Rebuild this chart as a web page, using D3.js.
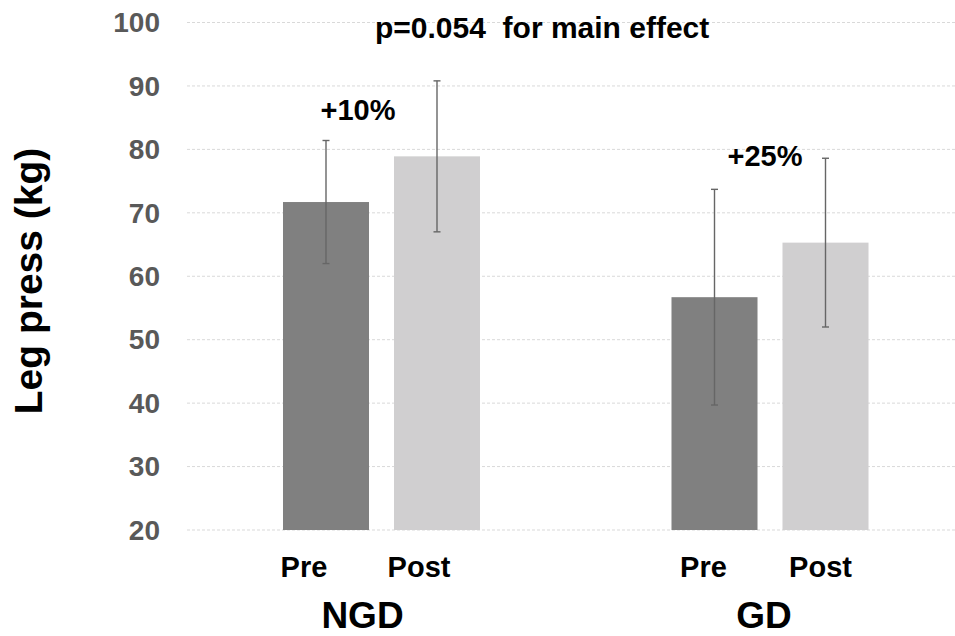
<!DOCTYPE html>
<html><head><meta charset="utf-8">
<script src="https://cdn.jsdelivr.net/npm/d3@7"></script>
<style>body{margin:0;background:#fff;} svg{display:block;font-family:"Liberation Sans",Arial,sans-serif;font-weight:bold;}</style>
</head><body>
<svg id="c" width="955" height="636"></svg>
<script>
const groups = ["NGD", "GD"];
const phases = ["Pre", "Post"];
const means = { NGD: [71.7, 78.9], GD: [56.7, 65.3] };
const errs  = { NGD: [9.7, 11.9], GD: [17.0, 13.3] };
const yTicks = [20, 30, 40, 50, 60, 70, 80, 90, 100];
const changeLabels = ["+10%", "+25%"];
const pText = "p=0.054  for main effect";

const svg = d3.select("#c");
const y = d3.scaleLinear().domain([20, 100]).range([530, 22.5]);
const x0 = d3.scaleBand().domain(groups).range([187.25, 964.25]).padding(0);
const x1 = d3.scaleBand().domain(phases).range([0, x0.bandwidth()]).paddingInner(0.225).paddingOuter(0.8625);
const colors = { Pre: "#808080", Post: "#d0cfd0" };

// gridlines
svg.append("g").selectAll("line").data(yTicks).join("line")
  .attr("x1", 187).attr("x2", 955)
  .attr("y1", d => y(d)).attr("y2", d => y(d))
  .attr("stroke", "#d9d9d9").attr("stroke-width", 1).attr("stroke-dasharray", "3,2");

// y tick labels
svg.append("g").selectAll("text").data(yTicks).join("text")
  .attr("x", 160).attr("y", d => y(d)).attr("dy", "0.35em")
  .attr("text-anchor", "end").attr("font-size", 28).attr("fill", "#595959")
  .text(d => d);

// y axis title
svg.append("text")
  .attr("transform", "translate(42,281) rotate(-90)")
  .attr("text-anchor", "middle").attr("font-size", 39).attr("fill", "#000")
  .text("Leg press (kg)");

const rows = [];
groups.forEach(g => phases.forEach((p, i) => rows.push({ g, p, v: means[g][i], e: errs[g][i] })));

// bars
svg.append("g").selectAll("rect").data(rows).join("rect")
  .attr("x", d => x0(d.g) + x1(d.p))
  .attr("width", x1.bandwidth())
  .attr("y", d => y(d.v))
  .attr("height", d => y(20) - y(d.v))
  .attr("fill", d => colors[d.p]);

// error bars
const eg = svg.append("g").attr("stroke", "#666").attr("stroke-width", 1.4);
const cx = d => x0(d.g) + x1(d.p) + x1.bandwidth() / 2;
eg.selectAll("line.v").data(rows).join("line").attr("class", "v")
  .attr("x1", cx).attr("x2", cx)
  .attr("y1", d => y(d.v + d.e)).attr("y2", d => y(d.v - d.e));
eg.selectAll("line.t").data(rows).join("line").attr("class", "t")
  .attr("x1", d => cx(d) - 3.5).attr("x2", d => cx(d) + 3.5)
  .attr("y1", d => y(d.v + d.e)).attr("y2", d => y(d.v + d.e));
eg.selectAll("line.b").data(rows).join("line").attr("class", "b")
  .attr("x1", d => cx(d) - 3.5).attr("x2", d => cx(d) + 3.5)
  .attr("y1", d => y(d.v - d.e)).attr("y2", d => y(d.v - d.e));

// phase labels (slight manual nudges as in original)
const phaseNudge = { NGD: [-22, -18], GD: [-11, -5] };
svg.append("g").selectAll("text").data(rows).join("text")
  .attr("x", d => cx(d) + phaseNudge[d.g][phases.indexOf(d.p)])
  .attr("y", 577).attr("text-anchor", "middle").attr("font-size", 29).attr("fill", "#000")
  .text(d => d.p);

// group labels
const groupNudge = [-19, -6];
svg.append("g").selectAll("text").data(groups).join("text")
  .attr("x", (d, i) => x0(d) + x0.bandwidth() / 2 + groupNudge[i])
  .attr("y", 628).attr("text-anchor", "middle").attr("font-size", 37).attr("fill", "#000")
  .text(d => d);

// change annotations
const annoPos = [[358, 120], [765, 166]];
svg.append("g").selectAll("text").data(changeLabels).join("text")
  .attr("x", (d, i) => annoPos[i][0]).attr("y", (d, i) => annoPos[i][1])
  .attr("text-anchor", "middle").attr("font-size", 29).attr("fill", "#000")
  .text(d => d);

svg.append("text").attr("x", 375).attr("y", 38).attr("font-size", 30)
  .style("white-space", "pre").attr("fill", "#000").text(pText);
</script>
</body></html>
